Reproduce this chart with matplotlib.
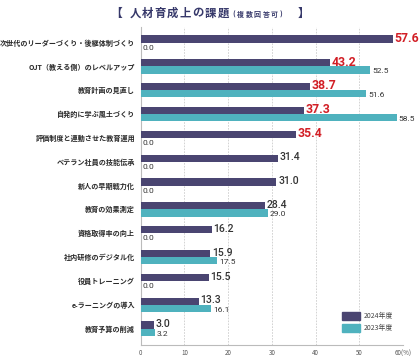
import numpy as np
import matplotlib
matplotlib.use("Agg")
import matplotlib.pyplot as plt
from matplotlib.patches import Patch

plt.rcParams['font.family'] = ['Noto Sans CJK JP', 'DejaVu Sans']

categories = [
    '次世代のリーダーづくり・後継体制づくり',
    'OJT（教える側）のレベルアップ',
    '教育計画の見直し',
    '自発的に学ぶ風土づくり',
    '評価制度と連動させた教育運用',
    'ベテラン社員の技能伝承',
    '新人の早期戦力化',
    '教育の効果測定',
    '資格取得率の向上',
    '社内研修のデジタル化',
    '役員トレーニング',
    'e-ラーニングの導入',
    '教育予算の削減',
]
v2024 = [57.6, 43.2, 38.7, 37.3, 35.4, 31.4, 31.0, 28.4, 16.2, 15.9, 15.5, 13.3, 3.0]
v2023 = [0.0, 52.5, 51.6, 58.5, 0.0, 0.0, 0.0, 29.0, 0.0, 17.5, 0.0, 16.1, 3.2]
highlight = [True, True, True, True, True] + [False] * 8

c24 = '#4a4571'
c23 = '#4fb2be'
red = '#d21f26'
num_font = ['Roboto', 'DejaVu Sans']

fig = plt.figure(figsize=(4.2, 3.56), dpi=100)
ax = fig.add_axes([0.335, 0.031, 0.625, 0.893])

y = np.arange(len(categories))
h = 0.3
ax.barh(y - h / 2, v2024, height=h, color=c24, zorder=3)
ax.barh(y + h / 2, v2023, height=h, color=c23, zorder=3)

for i in range(len(categories)):
    if highlight[i]:
        ax.text(v2024[i] + 0.4, y[i] - h / 2 - 0.03, f'{v2024[i]:.1f}', color=red,
                fontsize=8.8, fontweight='bold', family=num_font, va='center', ha='left')
    else:
        ax.text(v2024[i] + 0.4, y[i] - h / 2 - 0.03, f'{v2024[i]:.1f}', color='#333333',
                fontsize=7.5, family=num_font, fontweight='medium', va='center', ha='left')
    ax.text(v2023[i] + 0.4, y[i] + h / 2 + 0.06, f'{v2023[i]:.1f}', color='#333333',
            fontsize=6, family=num_font, va='center', ha='left')

ax.set_xlim(0, 60)
ax.set_ylim(len(categories) - 1 + 0.69, -0.65)
ax.set_yticks(y)
ax.set_yticklabels(categories, fontsize=5.1, color='#2a2a2a', fontweight='bold')
ax.set_xticks([0, 10, 20, 30, 40, 50, 60])
ax.set_xticklabels(['0', '10', '20', '30', '40', '50', '60(%)'], fontsize=4.5, color='#555555')
ax.tick_params(axis='both', length=0)
ax.tick_params(axis='y', pad=4)
ax.tick_params(axis='x', pad=3)

for s in ['top', 'right']:
    ax.spines[s].set_visible(False)
for s in ['left', 'bottom']:
    ax.spines[s].set_color('#bbbbbb')
    ax.spines[s].set_linewidth(0.8)
for gx in [10, 20, 30, 40, 50, 60]:
    ax.axvline(gx, color='#cccccc', lw=0.6, ls=(0, (2, 1.5)), zorder=1)

handles = [Patch(color=c24, label='2024年度'), Patch(color=c23, label='2023年度')]
ax.legend(handles=handles, loc='lower right', bbox_to_anchor=(0.985, 0.02), frameon=False,
          fontsize=5, handlelength=2.6, handleheight=1.4, labelspacing=0.6, handletextpad=0.5,
          labelcolor='#444444')

# title, characters placed one by one for letter spacing
title_color = '#36386a'
W, H = 420.0, 356.0
ty = 1 - 13 / H
fig.text(116 / W, ty, '【', fontsize=8.5, color=title_color, fontweight='bold', va='center', ha='center')
for k, ch in enumerate('人材育成上の課題'):
    fig.text((135 + k * 12.6) / W, ty, ch, fontsize=8.2, color=title_color,
             fontweight='bold', va='center', ha='center')
sub = ['(', '複', '数', '回', '答', '可', ')']
sub_x = [234, 240.5, 249, 257.5, 266, 274.5, 281]
for ch, sx in zip(sub, sub_x):
    fig.text(sx / W, ty - 0.003, ch, fontsize=5, color=title_color,
             fontweight='bold', va='center', ha='center')
fig.text(304 / W, ty, '】', fontsize=8.5, color=title_color, fontweight='bold', va='center', ha='center')

fig.savefig('out.png', dpi=100)
